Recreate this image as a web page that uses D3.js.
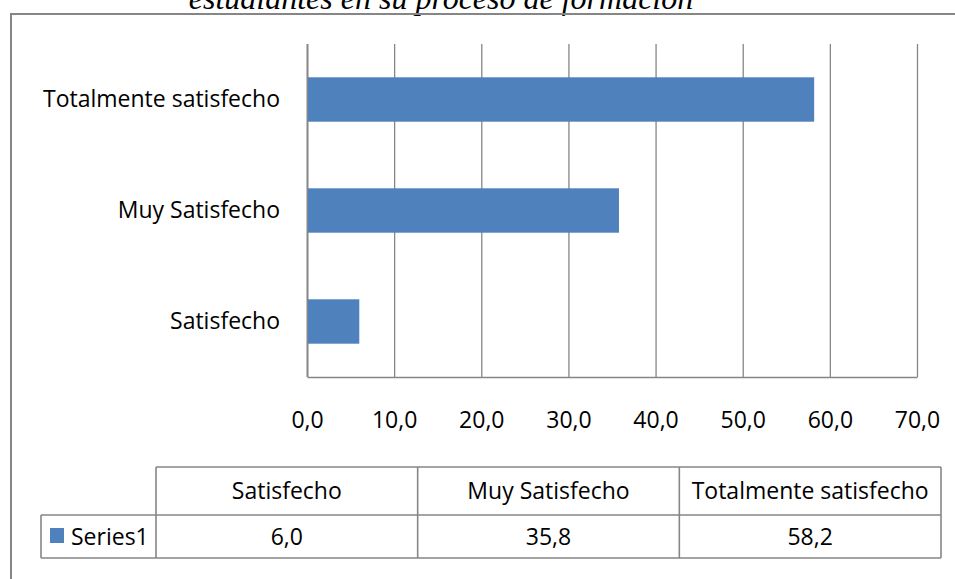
<!doctype html>
<html>
<head>
<meta charset="utf-8">
<style>
html,body{
    margin: 0;
    overflow: hidden;
    background: #fff;
}
text {
    font-family: "Open Sans", "Noto Sans", sans-serif;
    fill: #000;
}
</style>
<script src="https://cdn.jsdelivr.net/npm/d3@7/dist/d3.min.js"></script>
</head>
<body>
<script>
// data
var categories = ["Satisfecho", "Muy Satisfecho", "Totalmente satisfecho"];
var values = [6.0, 35.8, 58.2];
var seriesName = "Series1";
var tickValues = [0, 10, 20, 30, 40, 50, 60, 70];
var titleLine = "estudiantes en su proceso de formación";

(function(){
    var w = 955, h = 579,
        grey = "#868686",
        blue = "#4f81bd",
        fs = "23px",
        fmt = function(v){ return d3.format(".1f")(v).replace(".", ","); };

    var svg = d3.select("body").append("svg")
        .attr("width", w)
        .attr("height", h);

    // title, only its last line shows above the frame
    svg.append("text")
        .attr("x", 441)
        .attr("y", 9)
        .attr("text-anchor", "middle")
        .style("font-family", "'Liberation Serif', serif")
        .style("font-style", "italic")
        .style("font-size", "32px")
        .text(titleLine);

    // chart frame, runs off the right and bottom edge
    svg.append("rect")
        .attr("x", 11).attr("y", 14)
        .attr("width", 960).attr("height", 600)
        .attr("fill", "none")
        .attr("stroke", grey)
        .attr("stroke-width", 2);

    var x = d3.scaleLinear().domain([0, 70]).range([307, 917]);
    var y = d3.scaleBand()
        .domain(categories.slice().reverse())
        .range([44, 377])
        .paddingInner(0.6)
        .paddingOuter(0.3);

    // gridlines
    svg.append("g").selectAll("line")
        .data(tickValues)
        .enter().append("line")
            .attr("x1", function(d){ return x(d) + 0.5; })
            .attr("x2", function(d){ return x(d) + 0.5; })
            .attr("y1", 44)
            .attr("y2", 377)
            .attr("stroke", grey)
            .attr("stroke-width", function(d){ return d === 0 ? 2 : 1.3; });

    // bars
    svg.append("g").selectAll("rect")
        .data(categories)
        .enter().append("rect")
            .attr("x", x(0) + 1)
            .attr("y", function(d){ return y(d); })
            .attr("width", function(d, i){ return x(values[i]) - x(0) - 1; })
            .attr("height", y.bandwidth())
            .attr("fill", blue);

    // bottom axis
    var xAxis = d3.axisBottom(x)
        .tickValues(tickValues)
        .tickSize(0)
        .tickPadding(35)
        .tickFormat(fmt);
    var gx = svg.append("g")
        .attr("transform", "translate(0,377)")
        .call(xAxis);
    gx.select(".domain").attr("stroke", grey).attr("stroke-width", 1.5);
    gx.selectAll("text")
        .style("font-family", "'Open Sans', sans-serif")
        .style("font-size", fs);

    // category labels
    var yAxis = d3.axisLeft(y).tickSize(0).tickPadding(27);
    var gy = svg.append("g")
        .attr("transform", "translate(307,0)")
        .call(yAxis);
    gy.select(".domain").remove();
    gy.selectAll("text")
        .style("font-family", "'Open Sans', sans-serif")
        .style("font-size", fs);

    // data table under the chart
    var colX = d3.scaleBand().domain(categories).range([156, 941]);
    var top = 467, mid = 515, bot = 558, left = 41;
    var table = svg.append("g")
        .attr("fill", "none")
        .attr("stroke", grey)
        .attr("stroke-width", 1.6);

    table.append("line").attr("x1", 156).attr("x2", 941).attr("y1", top).attr("y2", top);
    table.append("line").attr("x1", left).attr("x2", 941).attr("y1", mid).attr("y2", mid);
    table.append("line").attr("x1", left).attr("x2", 941).attr("y1", bot).attr("y2", bot);
    table.append("line").attr("x1", left).attr("x2", left).attr("y1", mid).attr("y2", bot);
    table.selectAll(".col")
        .data(categories)
        .enter().append("line")
            .attr("x1", function(d){ return colX(d); })
            .attr("x2", function(d){ return colX(d); })
            .attr("y1", top).attr("y2", bot);
    table.append("line").attr("x1", 941).attr("x2", 941).attr("y1", top).attr("y2", bot);

    svg.append("g").selectAll("text")
        .data(categories)
        .enter().append("text")
            .attr("x", function(d){ return colX(d) + colX.bandwidth() / 2; })
            .attr("y", (top + mid) / 2)
            .attr("dy", "0.35em")
            .attr("text-anchor", "middle")
            .style("font-size", fs)
            .text(function(d){ return d; });

    svg.append("g").selectAll("text")
        .data(values)
        .enter().append("text")
            .attr("x", function(d, i){ return colX(categories[i]) + colX.bandwidth() / 2; })
            .attr("y", (mid + bot) / 2)
            .attr("dy", "0.35em")
            .attr("text-anchor", "middle")
            .style("font-size", fs)
            .text(fmt);

    svg.append("rect")
        .attr("x", 50).attr("y", 528)
        .attr("width", 14).attr("height", 15)
        .attr("fill", blue);
    svg.append("text")
        .attr("x", 71)
        .attr("y", (mid + bot) / 2)
        .attr("dy", "0.35em")
        .style("font-size", fs)
        .text(seriesName);
})();
</script>
</body>
</html>
